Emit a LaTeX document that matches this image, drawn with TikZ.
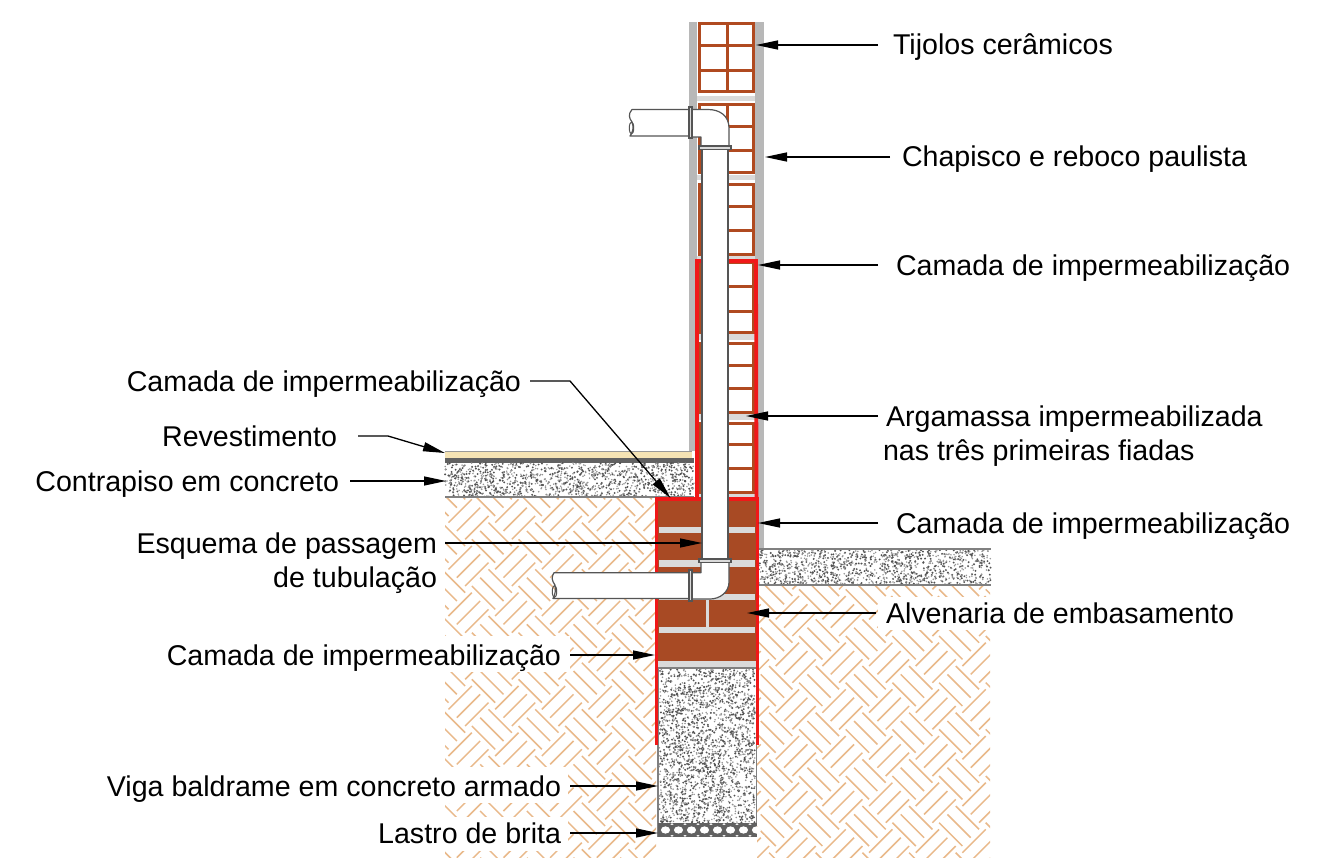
\documentclass[tikz,border=0pt]{standalone}
\usepackage{fontspec}
\setmainfont{Liberation Sans}
\usetikzlibrary{arrows.meta}
\definecolor{brick}{HTML}{B04A20}
\definecolor{brickfill}{HTML}{A84A24}
\definecolor{plaster}{HTML}{B8B8B8}
\definecolor{mortar}{HTML}{DADADA}
\definecolor{redcoat}{HTML}{F01818}
\definecolor{soil}{HTML}{E9B98A}
\definecolor{finish}{HTML}{F5E3B4}
\definecolor{pipeline}{HTML}{555555}
\tikzset{
  lbl/.style={inner sep=0pt,outer sep=0pt,text height=26pt,text depth=6pt,font=\fontsize{28.6}{32}\selectfont,text=black},
  pointer/.style={draw=black,line width=1.3pt,-{Triangle[length=22pt,width=9pt]}},
  brickline/.style={draw=brick,line width=3pt},
  redline/.style={draw=redcoat,line width=3.8pt},
  pipeshape/.style={draw=pipeline,line width=1.2pt,fill=white,line join=round},
  collar/.style={draw=pipeline,line width=1.1pt,fill=mortar},
  soilline/.style={draw=soil,line width=1.5pt},
  edgeline/.style={draw=black!50,line width=1.1pt}
}
\newcommand{\speckle}[4]{%
  \foreach \n in {1,...,\numexpr(#3*#4)/15\relax}{%
    \fill[black!68] ({#1+#3*rnd},{#2+#4*rnd}) circle[radius=1.05pt];}%
  \foreach \n in {1,...,\numexpr(#3*#4)/13\relax}{%
    \fill[black!42] ({#1+#3*rnd},{#2+#4*rnd}) circle[radius=0.85pt];}%
}
\newcommand{\soilgroups}[6]{%
  \foreach \i in {#3,...,#4}{\foreach \j in {#5,...,#6}{%
    \foreach \k in {-1,0,1}{%
      \draw[soilline] ({#1+46.67*\i+8.33*\k-11.67},{#2+46.67*\j+8.33*\k+11.67}) -- ++(23.34,-23.34);
      \draw[soilline] ({#1-23.33+46.67*\i-8.33*\k-11.67},{#2+23.33+46.67*\j+8.33*\k-11.67}) -- ++(23.34,23.34);
    }}}%
}
\newcommand{\brickblock}[4]{%
  \draw[brickline] (699.5,#1) rectangle (753.5,#2);
  \draw[brickline] (727,#1) -- (727,#2);
  \draw[brickline] (699.5,#3) -- (753.5,#3);
  \draw[brickline] (699.5,#4) -- (753.5,#4);
}
\begin{document}
\begin{tikzpicture}[x=1pt,y=-1pt]
\useasboundingbox (0,0) rectangle (1341,864);
\fill[white] (0,0) rectangle (1341,864);
\pgfmathsetseed{4242}
% soil
\begin{scope}
  \clip (445,497) rectangle (656,857);
  \soilgroups{468.5}{706}{-1}{4}{-5}{4}
\end{scope}
\begin{scope}
  \clip (757,585) rectangle (990,857);
  \soilgroups{842.4}{662.7}{-3}{4}{-3}{5}
\end{scope}
\fill[white] (440,636) rectangle (570,672);
\fill[white] (440,767) rectangle (568,803);
\fill[white] (440,817) rectangle (568,851);
\fill[white] (878,597) rectangle (995,630);
% plaster
\fill[plaster] (689,22) rectangle (697,451);
\fill[plaster] (755,22) rectangle (764,549);
\fill[mortar] (697,96) rectangle (755,101);
\fill[mortar] (697,175) rectangle (755,180);
\fill[mortar] (697,256) rectangle (755,260);
\fill[mortar] (697,334) rectangle (755,340);
\fill[mortar] (697,414) rectangle (755,420);
\fill[mortar] (697,493) rectangle (755,498);
% hollow bricks
\brickblock{23.5}{92}{46}{71}
\brickblock{104.5}{172}{127}{151}
\brickblock{184}{254}{206}{230}
\brickblock{262}{332}{286}{311}
\brickblock{343.5}{412}{365}{388}
\brickblock{423}{492}{444}{468}
% floor
\fill[finish] (445,451) rectangle (692,458);
\draw[black!40,line width=.8pt] (445,451) -- (692,451);
\fill[black!62] (445,458) rectangle (694,463);
\speckle{445}{463}{249}{34}
\draw[edgeline] (445,497) -- (694,497);
% right slab
\speckle{758}{550}{233}{35}
\draw[edgeline] (758,549) -- (991,549);
\draw[edgeline] (758,585) -- (991,585);
% foundation masonry
\fill[brickfill] (658,500) rectangle (756,661);
\fill[mortar] (659,527) rectangle (755,533);
\fill[mortar] (659,560) rectangle (755,567);
\fill[mortar] (659,594) rectangle (755,600);
\fill[mortar] (706,600) rectangle (709,627);
\fill[mortar] (659,627) rectangle (755,633);
\fill[mortar] (658,661) rectangle (756,667);
% beam
\speckle{659}{669}{96}{154}
\draw[edgeline] (658,668) -- (756,668);
\draw[edgeline] (658,668) -- (658,837);
\draw[edgeline] (756.5,668) -- (756.5,837);
% gravel
\fill[black!62] (658,823) rectangle (756.5,837);
\foreach \n in {0,...,7}{
  \fill[white] (665.5+\n*13,830) ellipse[x radius=4.6pt,y radius=3.6pt];
  \fill[white] (672+\n*13,824.2) ellipse[x radius=1.6pt,y radius=.9pt];
  \fill[white] (672+\n*13,835.8) ellipse[x radius=1.6pt,y radius=.9pt];
}
% waterproofing
\draw[redline] (697,498) -- (697,261) -- (756,261) -- (756.5,498);
\draw[redline] (656.5,745) -- (656.5,499) -- (757.5,499) -- (757.5,745);
% pipe
\draw[pipeshape] (702,149) rectangle (728,560);
\draw[pipeshape] (692,109.5) -- (708,109.5) .. controls (720,109.5) and (729,116) .. (729,128) -- (729,146.5) -- (701,146.5) -- (701,137) -- (692,137) -- cycle;
\draw[pipeshape] (689,109.5) -- (632,109.5) .. controls (628,114) and (629,118) .. (632,122) .. controls (634,127) and (633,132) .. (630,136) -- (689,136) -- cycle;
\draw[pipeline,line width=1pt] (631.5,128) ellipse[x radius=2.2pt,y radius=6pt];
\draw[collar] (689,107) rectangle (692,138);
\draw[collar] (699,146) rectangle (731,149.5);
\draw[pipeshape] (692,572.7) -- (701,572.7) -- (701,562) -- (729,562) -- (729,582) .. controls (729,592) and (720,599) .. (710,599) -- (692,599) -- cycle;
\draw[pipeshape] (689,572.7) -- (554,572.7) .. controls (551,577) and (552,581) .. (555,585) .. controls (556,590) and (555,595) .. (553,598.5) -- (689,598.5) -- cycle;
\draw[pipeline,line width=1pt] (554.5,591.5) ellipse[x radius=2.2pt,y radius=6pt];
\draw[collar] (689,570) rectangle (692,601);
\draw[collar] (699,559) rectangle (731,562.5);
% labels
\node[lbl,anchor=west] (tijolos) at (893,45) {Tijolos cerâmicos};
\node[lbl,anchor=west] (chapisco) at (902,157) {Chapisco e reboco paulista};
\node[lbl,anchor=west] (camadaA) at (896,265) {Camada de impermeabilização};
\node[lbl,anchor=west] (argA) at (886,416) {Argamassa impermeabilizada};
\node[lbl,anchor=west] (argB) at (883,450) {nas três primeiras fiadas};
\node[lbl,anchor=west] (camadaB) at (896,523) {Camada de impermeabilização};
\node[lbl,anchor=west] (alven) at (886,613) {Alvenaria de embasamento};
\node[lbl,anchor=east] (camadaC) at (521,381) {Camada de impermeabilização};
\node[lbl,anchor=east] (revest) at (337,436) {Revestimento};
\node[lbl,anchor=east] (contra) at (339,481) {Contrapiso em concreto};
\node[lbl,anchor=east] (esqA) at (437,543) {Esquema de passagem};
\node[lbl,anchor=east] (esqB) at (437,577) {de tubulação};
\node[lbl,anchor=east] (camadaD) at (561,655) {Camada de impermeabilização};
\node[lbl,anchor=east] (viga) at (561,786) {Viga baldrame em concreto armado};
\node[lbl,anchor=east] (lastro) at (561,833) {Lastro de brita};
% connector ends
\coordinate (tipTijolos) at (756,45);
\coordinate (tipChapisco) at (765,157);
\coordinate (tipCamadaA) at (758,265);
\coordinate (tipArg) at (746,416);
\coordinate (tipCamadaB) at (758,523);
\coordinate (tipAlven) at (747,613);
\coordinate (bendC) at (570,381);
\coordinate (tipCamadaC) at (670.5,498);
\coordinate (bendR) at (388,436);
\coordinate (tipRevest) at (445,453);
\coordinate (tipContra) at (446,481);
\coordinate (tipEsq) at (702,543);
\coordinate (tipCamadaD) at (655,655);
\coordinate (tipViga) at (658,786);
\coordinate (tipLastro) at (658,833);
% connectors
\draw[pointer,shorten <=15pt] (tijolos.west) -- (tipTijolos);
\draw[pointer,shorten <=12pt] (chapisco.west) -- (tipChapisco);
\draw[pointer,shorten <=18pt] (camadaA.west) -- (tipCamadaA);
\draw[pointer,shorten <=8pt] (argA.west) -- (tipArg);
\draw[pointer,shorten <=18pt] (camadaB.west) -- (tipCamadaB);
\draw[pointer,shorten <=10pt] (alven.west) -- (tipAlven);
\draw[pointer,shorten <=9pt] (camadaC.east) -- (bendC) -- (tipCamadaC);
\draw[pointer,shorten <=21pt] (revest.east) -- (bendR) -- (tipRevest);
\draw[pointer,shorten <=11pt] (contra.east) -- (tipContra);
\draw[pointer,shorten <=8pt] (esqA.east) -- (tipEsq);
\draw[pointer,shorten <=9pt] (camadaD.east) -- (tipCamadaD);
\draw[pointer,shorten <=9pt] (viga.east) -- (tipViga);
\draw[pointer,shorten <=9pt] (lastro.east) -- (tipLastro);
\end{tikzpicture}
\end{document}
